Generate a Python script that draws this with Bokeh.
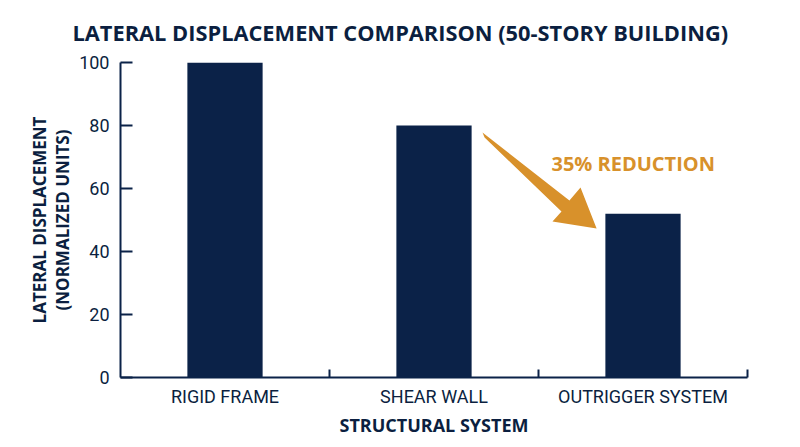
from bokeh.plotting import figure
from bokeh.models import Range1d, FixedTicker, ColumnDataSource, Title, Label
from bokeh.embed import file_html
from bokeh.resources import INLINE

categories = ["RIGID FRAME", "SHEAR WALL", "OUTRIGGER SYSTEM"]
displacement = [100, 80, 52]
y_ticks = [0, 20, 40, 60, 80, 100]

annotation_text = "35% REDUCTION"
annotation_pos = (2.062, 67.9)
arrow_x = [1.732, 2.148, 2.201, 2.278, 2.067, 2.110, 1.742]
arrow_y = [77.8, 56.2, 60.3, 47.3, 49.5, 52.7, 76.2]

NAVY = "#0B2248"
TEXT = "#0B1F40"
ORANGE = "#D8912B"

centers = [i + 0.5 for i in range(len(categories))]
bounds = [i + 1 for i in range(len(categories))]

p = figure(frame_width=627, frame_height=315, output_backend="svg", toolbar_location=None,
           x_range=Range1d(0, len(categories)), y_range=Range1d(0, 100),
           min_border_left=120, min_border_right=37, min_border_top=62, min_border_bottom=50)
p.title = Title(text="LATERAL DISPLACEMENT COMPARISON (50-STORY BUILDING)",
                align="left", offset=-48, text_font="Open Sans", text_font_style="bold",
                text_font_size="21.8px", text_color=TEXT, standoff=28,
                vertical_align="top")
p.outline_line_color = None
p.grid.visible = False

src = ColumnDataSource(dict(x=centers, top=displacement))
p.vbar(x="x", top="top", width=0.36, source=src, fill_color=NAVY, line_color=None)

p.patch(arrow_x, arrow_y, fill_color=ORANGE, line_color=None)
p.add_layout(Label(x=annotation_pos[0], y=annotation_pos[1], text=annotation_text,
                   text_font="Open Sans", text_font_style="bold", text_font_size="20px",
                   text_color=ORANGE, text_baseline="middle"))

xa = p.xaxis[0]
xa.ticker = FixedTicker(ticks=centers, minor_ticks=bounds)
xa.major_label_overrides = {c: lab for c, lab in zip(centers, categories)}
xa.major_tick_in = 0
xa.major_tick_out = 0
xa.minor_tick_in = 8
xa.minor_tick_out = 0
xa.minor_tick_line_color = NAVY
xa.minor_tick_line_width = 2
xa.axis_line_color = NAVY
xa.axis_line_width = 2
xa.major_label_text_font = "Roboto"
xa.major_label_text_font_size = "18px"
xa.major_label_text_color = TEXT
xa.major_label_standoff = 8
xa.axis_label = "STRUCTURAL SYSTEM"
xa.axis_label_text_font = "Open Sans"
xa.axis_label_text_font_style = "bold"
xa.axis_label_text_font_size = "18px"
xa.axis_label_text_color = TEXT
xa.axis_label_standoff = 3

ya = p.yaxis[0]
ya.ticker = FixedTicker(ticks=y_ticks, minor_ticks=[])
ya.major_tick_in = 12
ya.major_tick_out = 0
ya.major_tick_line_color = NAVY
ya.major_tick_line_width = 2
ya.axis_line_color = NAVY
ya.axis_line_width = 2
ya.major_label_text_font = "Roboto"
ya.major_label_text_font_size = "18px"
ya.major_label_text_color = TEXT
ya.major_label_standoff = 11
ya.axis_label = "LATERAL DISPLACEMENT\n(NORMALIZED UNITS)"
ya.axis_label_text_font = "Open Sans"
ya.axis_label_text_font_style = "bold"
ya.axis_label_text_font_size = "17px"
ya.axis_label_text_line_height = 1.0
ya.axis_label_text_color = TEXT
ya.axis_label_standoff = 2

open("out.html", "w").write(file_html(p, INLINE))
